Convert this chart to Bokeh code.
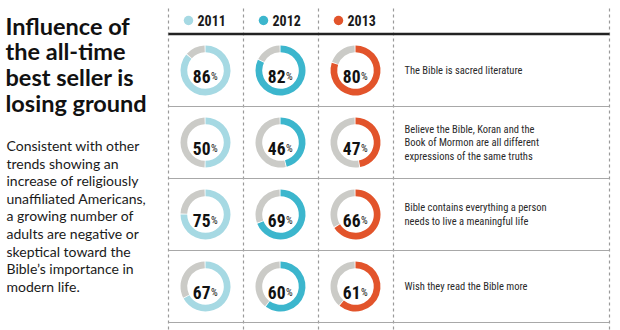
from bokeh.plotting import figure
from bokeh.models import Range1d
from bokeh.embed import file_html
from bokeh.resources import INLINE
from bokeh.core.properties import value
import math

# ---------------- data ----------------
years = ["2011", "2012", "2013"]
year_colors = ["#a6d9e3", "#3cb6cd", "#e2542b"]
v2011 = [86, 50, 75, 67]
v2012 = [82, 46, 69, 60]
v2013 = [80, 47, 66, 61]
statements = [
    ["The Bible is sacred literature"],
    ["Believe the Bible, Koran and the", "Book of Mormon are all different", "expressions of the same truths"],
    ["Bible contains everything a person", "needs to live a meaningful life"],
    ["Wish they read the Bible more"],
]
title_lines = ["Influence of", "the all-time", "best seller is", "losing ground"]
body_lines = ["Consistent with other", "trends showing an", "increase of religiously",
              "unaffiliated Americans,", "a growing number of", "adults are negative or",
              "skeptical toward the", "Bible\u2019s importance in", "modern life."]

# ---------------- layout ----------------
W, H = 620, 330
def Y(v):
    return H - v

p = figure(width=W, height=H, x_range=Range1d(0, W), y_range=Range1d(0, H),
           output_backend="svg", toolbar_location=None, min_border=0)
p.axis.visible = False
p.grid.visible = False
p.outline_line_color = None
p.background_fill_color = "white"

NARROW = value("'Roboto Condensed', 'DejaVu Sans Condensed', 'Liberation Sans Narrow', 'Liberation Sans'")
col_x = [205, 280, 355]
row_y = [70, 142, 214, 286]
vlines = [168, 243, 318, 393, 609]
r_out, r_in = 25, 18.3
gray = "#cbcbc7"
gap = math.radians(2.2)

# grid lines
for x in vlines:
    p.line([x, x], [Y(8), Y(330)], line_color="#9a9a9a", line_width=1.2, line_dash="3 3")
p.line([168, 609], [Y(33.5), Y(33.5)], line_color="#222222", line_width=2.5)
for yy in [106, 178, 250, 322]:
    p.line([168, 609], [Y(yy), Y(yy)], line_color="#a8a8a8", line_width=1.2)

# legend header
for i, (yr, c) in enumerate(zip(years, year_colors)):
    p.scatter([col_x[i] - 17], [Y(20)], size=9.5, fill_color=c, line_color=None)
    p.text([col_x[i] - 8], [Y(20)], text=[yr], text_font=NARROW, text_font_style="bold",
           text_font_size="14px", text_baseline="middle", text_align="left", text_color="#1a1a1a")

# donuts
series = [v2011, v2012, v2013]
for ci, vals in enumerate(series):
    for ri, v in enumerate(vals):
        cx, cy = col_x[ci], Y(row_y[ri])
        top = math.pi / 2
        a = v / 100 * 2 * math.pi
        p.annular_wedge(x=cx, y=cy, inner_radius=r_in, outer_radius=r_out,
                        start_angle=top - a, end_angle=top, fill_color=year_colors[ci],
                        line_color=None)
        p.annular_wedge(x=cx, y=cy, inner_radius=r_in, outer_radius=r_out,
                        start_angle=top + gap, end_angle=top - a - gap + 2 * math.pi,
                        fill_color=gray, line_color=None)
        p.text([cx + 5], [cy - 5.5], text=[str(v)], text_font=NARROW, text_font_style="bold",
               text_font_size="17.5px", text_align="right", text_baseline="alphabetic",
               text_color="#111111")
        p.text([cx + 5.5], [cy - 5.5], text=["%"], text_font=NARROW,
               text_font_size="10.5px", text_align="left", text_baseline="alphabetic",
               text_color="#111111")

# statements
for ri, lines in enumerate(statements):
    n = len(lines)
    lh = 13.5
    y0 = row_y[ri] - (n - 1) * lh / 2
    for k, ln in enumerate(lines):
        p.text([404], [Y(y0 + k * lh)], text=[ln], text_font=NARROW, text_font_size="10.5px",
               text_baseline="middle", text_align="left", text_color="#2a2a2a")

# title and body
for k, ln in enumerate(title_lines):
    p.text([5], [Y(25 + k * 25.8)], text=[ln], text_font=value("Lato"), text_font_style="bold",
           text_font_size="23.5px", text_baseline="alphabetic", text_align="left", text_color="#111111")
for k, ln in enumerate(body_lines):
    p.text([6], [Y(145 + k * 17.6)], text=[ln], text_font=value("Lato"),
           text_font_size="14px", text_baseline="alphabetic", text_align="left", text_color="#1a1a1a")

open("out.html", "w").write(file_html(p, INLINE))
